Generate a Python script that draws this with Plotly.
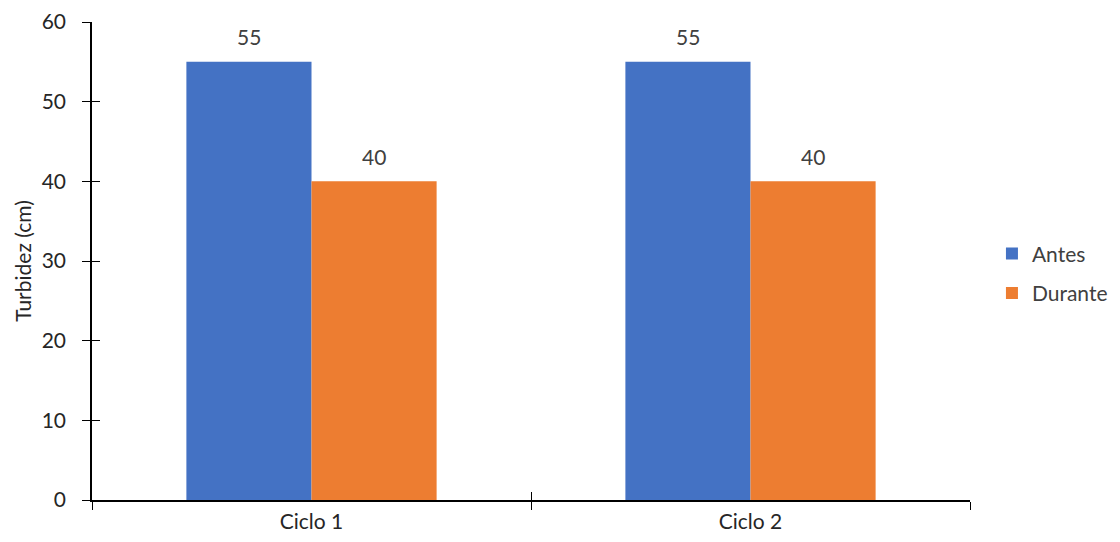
import plotly.graph_objects as go

# Turbidity readings per cycle
ciclos = ["Ciclo 1", "Ciclo 2"]
antes = [55, 55]
durante = [40, 40]
y_ticks = [0, 10, 20, 30, 40, 50, 60]

COLOR_ANTES = "#4472C4"
COLOR_DURANTE = "#ED7D31"
FONT = "Lato, Carlito, Calibri, sans-serif"
TEXT_COLOR = "#404040"
FS = 21

W, H = 1120, 542
M_L, M_R, M_T, M_B = 92, 150, 22, 42
BARGAP = 0.43
plot_w = W - M_L - M_R
cat_px = plot_w / len(ciclos)
bar_px = cat_px * (1 - BARGAP) / 2

fig = go.Figure()
fig.add_trace(go.Bar(name="Antes", x=ciclos, y=antes, marker=dict(color=COLOR_ANTES, line_width=0),
                     legendgroup="a", hoverinfo="x+y+name"))
fig.add_trace(go.Bar(name="Durante", x=ciclos, y=durante, marker=dict(color=COLOR_DURANTE, line_width=0),
                     legendgroup="d", hoverinfo="x+y+name"))
# same data on the overlay axes with transparent markers, so the inward tick halves appear
fig.add_trace(go.Scatter(x=ciclos, y=antes, mode="markers", xaxis="x2", yaxis="y2",
                         marker=dict(opacity=0, size=1), showlegend=False, hoverinfo="skip"))

# value labels above each bar
for series, sign in ((antes, -1), (durante, 1)):
    for c, v in zip(ciclos, series):
        fig.add_annotation(x=c, y=v, text=str(v), showarrow=False,
                           xshift=sign * bar_px / 2, yshift=25,
                           font=dict(family=FONT, size=FS, color=TEXT_COLOR))

tick_style = dict(showgrid=False, zeroline=False, tickcolor="black", tickwidth=1.2, ticklen=8)

fig.update_layout(
    width=W, height=H,
    margin=dict(l=M_L, r=M_R, t=M_T, b=M_B, autoexpand=False),
    paper_bgcolor="white", plot_bgcolor="white",
    barmode="group", bargap=BARGAP, bargroupgap=0,
    font=dict(family=FONT, size=FS, color=TEXT_COLOR),
    showlegend=True,
    legend=dict(x=1.025, y=0.474, xanchor="left", yanchor="middle",
                traceorder="grouped", tracegroupgap=9,
                font=dict(family=FONT, size=FS, color=TEXT_COLOR),
                itemwidth=30),
    xaxis=dict(type="category", categoryarray=ciclos, range=[-0.5, 1.5],
               ticks="outside", tickson="boundaries",
               showline=True, linecolor="black", linewidth=1.5,
               tickfont=dict(size=FS, color="#262626"), ticklabelstandoff=2, **tick_style),
    yaxis=dict(range=[0, 60], tickvals=y_ticks, ticks="outside",
               showline=True, linecolor="black", linewidth=1.5,
               ticklabelstandoff=12, tickfont=dict(size=FS, color="#262626"),
               title=dict(text="Turbidez (cm)", standoff=4,
                          font=dict(size=FS, color="#262626")),
               **tick_style),
    xaxis2=dict(type="category", categoryarray=ciclos, overlaying="x", anchor="y",
                side="bottom", range=[-0.5, 1.5], ticks="inside", tickson="boundaries",
                showticklabels=False, showline=False, **tick_style),
    yaxis2=dict(overlaying="y", anchor="x", side="left", range=[0, 60], tickvals=y_ticks,
                ticks="inside", showticklabels=False, showline=False, **tick_style),
)

fig.write_html("out.html")
